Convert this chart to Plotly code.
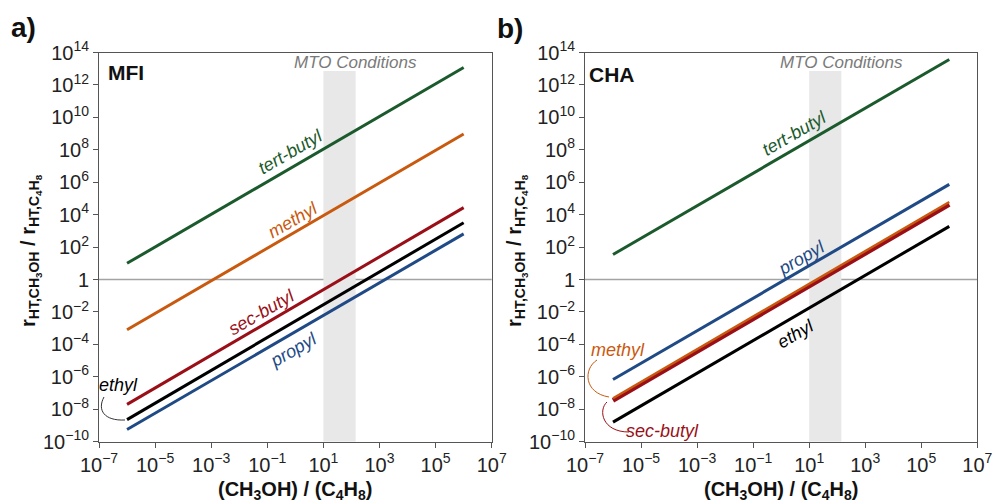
import plotly.graph_objects as go

W, H = 995, 503

# ---------------- data ----------------
conc_ratio = [1e-6, 1e6]  # (CH3OH)/(C4H8)

mfi_tert_butyl = [1.0e1, 1.2e13]
mfi_methyl = [8.0e-4, 9.5e8]
mfi_sec_butyl = [2.0e-8, 2.7e4]
mfi_ethyl = [2.3e-9, 3.2e3]
mfi_propyl = [5.6e-10, 6.5e2]

cha_tert_butyl = [3.5e1, 3.7e13]
cha_propyl = [6.8e-7, 7.4e5]
cha_sec_butyl = [3.5e-8, 4.2e4]
cha_methyl = [4.8e-8, 6.0e4]
cha_ethyl = [1.6e-9, 1.9e3]

mto_range = [10, 141]

x_tickvals = [1e-7, 1e-5, 1e-3, 1e-1, 1e1, 1e3, 1e5, 1e7]
x_ticktext = ["10<sup>−7</sup>", "10<sup>−5</sup>", "10<sup>−3</sup>", "10<sup>−1</sup>",
              "10<sup>1</sup>", "10<sup>3</sup>", "10<sup>5</sup>", "10<sup>7</sup>"]
y_tickvals = [1e-10, 1e-8, 1e-6, 1e-4, 1e-2, 1, 1e2, 1e4, 1e6, 1e8, 1e10, 1e12, 1e14]
y_ticktext = ["10<sup>−10</sup>", "10<sup>−8</sup>", "10<sup>−6</sup>", "10<sup>−4</sup>",
              "10<sup>−2</sup>", "1", "10<sup>2</sup>", "10<sup>4</sup>", "10<sup>6</sup>",
              "10<sup>8</sup>", "10<sup>10</sup>", "10<sup>12</sup>", "10<sup>14</sup>"]

# ---------------- styles ----------------
GREEN = "#1b5a2c"
ORANGE = "#c9590e"
RED = "#9a0f17"
BLUE = "#1f4a85"
BLACK = "#000000"
AXC = "#555555"
FONT = "Liberation Sans, Arial, sans-serif"

fig = go.Figure()


def add_line(x, y, color, width, xa, ya):
    fig.add_trace(go.Scatter(x=x, y=y, mode="lines", line=dict(color=color, width=width),
                             showlegend=False, hoverinfo="skip", xaxis=xa, yaxis=ya))


# panel a (MFI)
add_line(conc_ratio, mfi_tert_butyl, GREEN, 3, "x", "y")
add_line(conc_ratio, mfi_methyl, ORANGE, 3, "x", "y")
add_line(conc_ratio, mfi_sec_butyl, RED, 3, "x", "y")
add_line(conc_ratio, mfi_ethyl, BLACK, 3, "x", "y")
add_line(conc_ratio, mfi_propyl, BLUE, 3, "x", "y")

# panel b (CHA)
add_line(conc_ratio, cha_tert_butyl, GREEN, 3, "x2", "y2")
add_line(conc_ratio, cha_propyl, BLUE, 3, "x2", "y2")
add_line(conc_ratio, cha_ethyl, BLACK, 3, "x2", "y2")
add_line(conc_ratio, cha_sec_butyl, RED, 4.6, "x2", "y2")
add_line(conc_ratio, cha_methyl, ORANGE, 2.4, "x2", "y2")

ydom = [1 - 441.7 / H, 1 - 52.5 / H]
axis_common = dict(type="log", showline=True, mirror=True, linecolor=AXC, linewidth=1,
                   ticks="outside", ticklen=5, tickcolor=AXC, tickwidth=1,
                   showgrid=False, zeroline=False, automargin=False,
                   tickfont=dict(family=FONT, size=20, color="#222222"))

fig.update_layout(
    width=W, height=H, margin=dict(l=0, r=0, t=0, b=0),
    paper_bgcolor="white", plot_bgcolor="white",
    font=dict(family=FONT),
    xaxis=dict(domain=[99 / W, 491.7 / W], range=[-7, 7], tickvals=x_tickvals, ticktext=x_ticktext,
               tickangle=0, anchor="y", **axis_common),
    yaxis=dict(domain=ydom, range=[-10, 14], tickvals=y_tickvals, ticktext=y_ticktext,
               anchor="x", **axis_common),
    xaxis2=dict(domain=[585 / W, 977.3 / W], range=[-7, 7], tickvals=x_tickvals, ticktext=x_ticktext,
                tickangle=0, anchor="y2", **axis_common),
    yaxis2=dict(domain=ydom, range=[-10, 14], tickvals=y_tickvals, ticktext=y_ticktext,
                anchor="x2", **axis_common),
)

# shapes: MTO band and y=1 line
shapes = []
for xr, yr in (("x", "y"), ("x2", "y2")):
    shapes.append(dict(type="rect", xref=xr, yref=yr, x0=mto_range[0], x1=mto_range[1],
                       y0=1e-10, y1=10 ** 12.86, fillcolor="#e8e8e8", line=dict(width=0), layer="below"))
    shapes.append(dict(type="line", xref=xr + " domain", yref=yr, x0=0, x1=1, y0=1, y1=1,
                       line=dict(color="#a3a3a3", width=1.5), layer="below"))


def pp(px, py):
    return f"{px / W:.5f},{1 - py / H:.5f}"


def curve(p0, c1, c2, p1, color):
    return dict(type="path", xref="paper", yref="paper",
                path=f"M {pp(*p0)} C {pp(*c1)} {pp(*c2)} {pp(*p1)}",
                line=dict(color=color, width=1))


shapes.append(curve((104, 397), (97, 410), (104, 421), (125, 420), "#333333"))
shapes.append(curve((597, 360), (583, 369), (584, 393), (609, 397), ORANGE))
shapes.append(curve((607, 402), (598, 410), (602, 432), (629, 432), RED))
fig.update_layout(shapes=shapes)

ann = []


def lab(text, x, y, color, xr, yr, angle=-30, size=18):
    ann.append(dict(text=f"<i>{text}</i>", x=x, y=y, xref=xr, yref=yr, textangle=angle,
                    showarrow=False, font=dict(family=FONT, size=size, color=color),
                    xanchor="center", yanchor="middle"))


# panel a labels
lab("tert-butyl", -0.19, 7.87, GREEN, "x", "y")
lab("methyl", -0.08, 3.67, ORANGE, "x", "y")
lab("sec-butyl", -1.19, -2.0, RED, "x", "y")
lab("propyl", -0.08, -4.34, BLUE, "x", "y")
lab("ethyl", -6.32, -6.5, BLACK, "x", "y", angle=0)
lab("MTO Conditions", 2.16, 13.41, "#7a7a7a", "x", "y", angle=0, size=17)
# panel b labels
lab("tert-butyl", 0.49, 9.02, GREEN, "x2", "y2")
lab("propyl", 0.71, 1.32, BLUE, "x2", "y2")
lab("ethyl", 0.51, -3.34, BLACK, "x2", "y2")
lab("methyl", -5.82, -4.35, ORANGE, "x2", "y2", angle=0)
lab("sec-butyl", -4.22, -9.35, RED, "x2", "y2", angle=0)
lab("MTO Conditions", 2.17, 13.41, "#7a7a7a", "x2", "y2", angle=0, size=17)


def ptext(text, px, py, size, xanchor="center", angle=0):
    ann.append(dict(text=text, x=px / W, y=1 - py / H, xref="paper", yref="paper",
                    showarrow=False, textangle=angle, xanchor=xanchor, yanchor="middle",
                    font=dict(family=FONT, size=size, color="#111111")))


ptext("<b>a)</b>", 23, 27, 28)
ptext("<b>b)</b>", 510, 28, 28)
ptext("<b>MFI</b>", 106, 73, 21, xanchor="left")
ptext("<b>CHA</b>", 587, 74, 21, xanchor="left")

ytitle = "<b>r<sub>HT,CH<sub>3</sub>OH</sub> / r<sub>HT,C<sub>4</sub>H<sub>8</sub></sub></b>"
ptext(ytitle, 30, 251, 20, angle=-90)
ptext(ytitle, 516, 251, 20, angle=-90)
xtitle = "<b>(CH<sub>3</sub>OH) / (C<sub>4</sub>H<sub>8</sub>)</b>"
ptext(xtitle, 295, 490, 20)
ptext(xtitle, 781, 490, 20)

fig.update_layout(annotations=ann)

fig.write_html("out.html")
